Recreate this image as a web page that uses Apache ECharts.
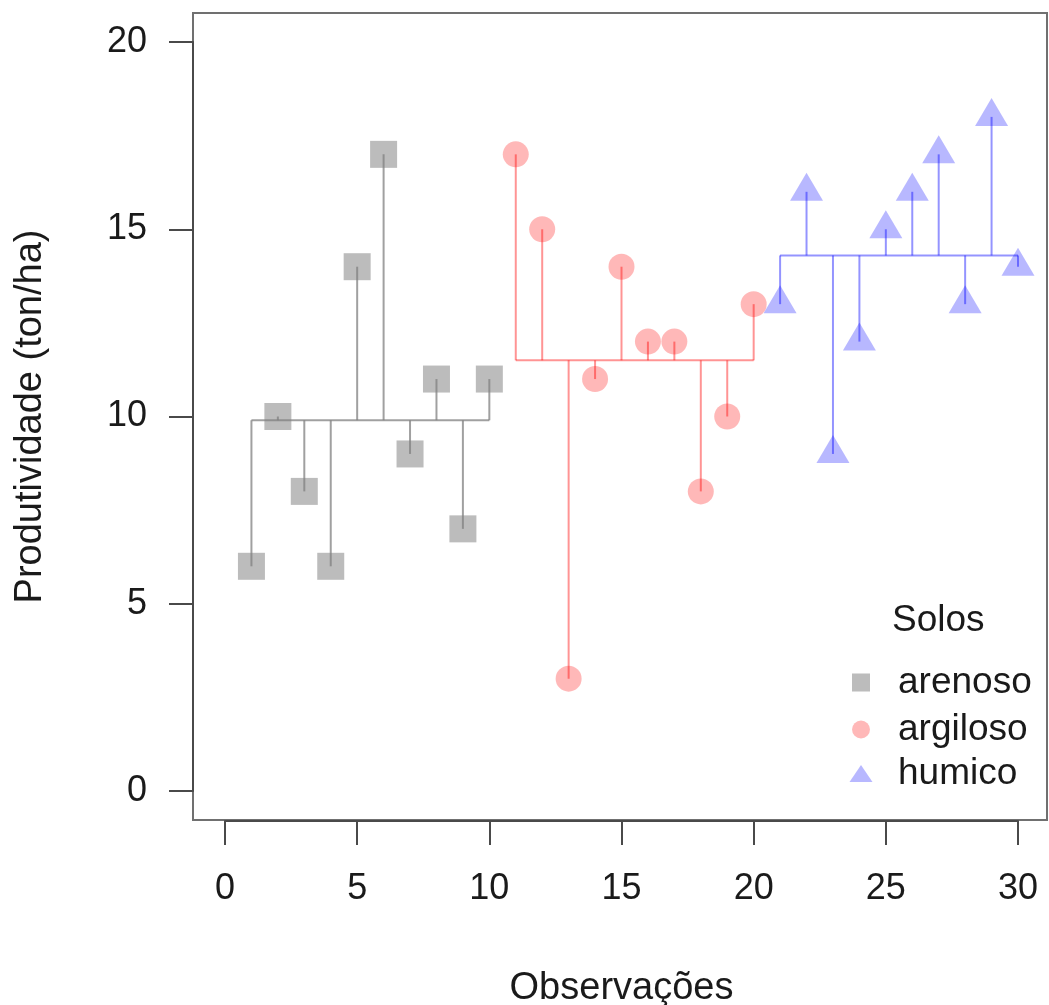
<!DOCTYPE html>
<html>
<head>
<meta charset="utf-8">
<script src="https://cdn.jsdelivr.net/npm/echarts@6/dist/echarts.min.js"></script>
<style>html,body{margin:0;padding:0;background:#fff}#c{width:1049px;height:1005px}</style>
</head>
<body>
<div id="c"></div>
<script>
// ---- data ----
const obsArenoso  = [1, 2, 3, 4, 5, 6, 7, 8, 9, 10];
const obsArgiloso = [11, 12, 13, 14, 15, 16, 17, 18, 19, 20];
const obsHumico   = [21, 22, 23, 24, 25, 26, 27, 28, 29, 30];
const arenoso  = [6, 10, 8, 6, 14, 17, 9, 11, 7, 11];
const argiloso = [17, 15, 3, 11, 14, 12, 12, 8, 10, 13];
const humico   = [13, 16, 9, 12, 15, 16, 17, 13, 18, 14];
const xTicks = [0, 5, 10, 15, 20, 25, 30];
const yTicks = [0, 5, 10, 15, 20];
const groupNames = ['arenoso', 'argiloso', 'humico'];
const legendTitle = 'Solos';
const xTitle = 'Observações';
const yTitle = 'Produtividade (ton/ha)';

// ---- styles ----
const FONT = '"Liberation Sans", Arial, Helvetica, sans-serif';
const TXT = '#1a1a1a';
const AX = '#4a4a4a';
const colors = ['rgba(128,128,128,0.66)', 'rgba(255,0,0,0.35)', 'rgba(0,0,255,0.35)'];
const lineColors = ['rgba(128,128,128,0.75)', 'rgba(255,0,0,0.42)', 'rgba(0,0,255,0.42)'];

const groups = [
  { name: groupNames[0], xs: obsArenoso, ys: arenoso, symbol: 'rect', size: 27, offset: [0, 0] },
  { name: groupNames[1], xs: obsArgiloso, ys: argiloso, symbol: 'circle', size: 26, offset: [0, 0] },
  { name: groupNames[2], xs: obsHumico, ys: humico, symbol: 'triangle', size: [33, 28], offset: [0, -5] }
];

const mean = a => a.reduce((s, v) => s + v, 0) / a.length;

const series = [];
groups.forEach((g, i) => {
  const m = mean(g.ys);
  series.push({
    name: g.name,
    type: 'scatter',
    symbol: g.symbol,
    symbolSize: g.size,
    symbolOffset: g.offset,
    clip: false,
    z: 2,
    itemStyle: { color: colors[i] },
    emphasis: { disabled: true },
    data: g.xs.map((x, k) => [x, g.ys[k]])
  });
  // vertical residual segments from point to group mean
  series.push({
    type: 'custom',
    z: 3,
    clip: false,
    silent: true,
    data: g.xs.map((x, k) => [x, g.ys[k], m]),
    renderItem: (params, api) => {
      const p1 = api.coord([api.value(0), api.value(1)]);
      const p2 = api.coord([api.value(0), api.value(2)]);
      return {
        type: 'line',
        shape: { x1: p1[0], y1: p1[1], x2: p2[0], y2: p2[1] },
        style: { stroke: lineColors[i], lineWidth: 2 }
      };
    }
  });
  // horizontal mean line
  series.push({
    type: 'line',
    z: 3,
    silent: true,
    showSymbol: false,
    symbol: 'none',
    lineStyle: { color: lineColors[i], width: 2 },
    data: [[g.xs[0], m], [g.xs[g.xs.length - 1], m]]
  });
});

const legendTops = [664, 711, 755];
const legendIcons = [[18, 18], [18, 18], [23, 17]];
const legends = groups.map((g, i) => ({
  data: [g.name],
  left: 852 - (legendIcons[i][0] - 18) / 2,
  top: legendTops[i],
  orient: 'vertical',
  padding: 0,
  itemWidth: legendIcons[i][0],
  itemHeight: legendIcons[i][1],
  selectedMode: false,
  textStyle: { fontSize: 37, lineHeight: 37, color: TXT, fontFamily: FONT, padding: [0, 0, 0, 23 - (legendIcons[i][0] - 18) / 2] }
}));

const chart = echarts.init(document.getElementById('c'), null, { renderer: 'canvas' });
chart.setOption({
  animation: false,
  backgroundColor: '#fff',
  title: {
    text: legendTitle,
    left: 892,
    top: 602,
    padding: 0,
    textStyle: { fontSize: 37, fontWeight: 'normal', color: TXT, fontFamily: FONT }
  },
  legend: legends,
  grid: { left: 225, right: 31, top: 42, bottom: 214, show: false, containLabel: false, outerBoundsMode: 'none' },
  xAxis: {
    type: 'value',
    min: xTicks[0],
    max: xTicks[xTicks.length - 1],
    interval: xTicks[1] - xTicks[0],
    offset: 30,
    name: xTitle,
    nameLocation: 'middle',
    nameGap: 149,
    nameTextStyle: { fontSize: 38, color: TXT, fontFamily: FONT },
    axisLine: { show: true, onZero: false, lineStyle: { color: AX, width: 2 } },
    axisTick: { show: true, length: 24, lineStyle: { color: AX, width: 2 } },
    axisLabel: { fontSize: 36, color: TXT, fontFamily: FONT, margin: 50 },
    splitLine: { show: false }
  },
  yAxis: {
    type: 'value',
    min: yTicks[0],
    max: yTicks[yTicks.length - 1],
    interval: yTicks[1] - yTicks[0],
    offset: 32,
    name: yTitle,
    nameLocation: 'middle',
    nameGap: 143,
    nameTextStyle: { fontSize: 38, color: TXT, fontFamily: FONT },
    axisLine: { show: true, onZero: false, lineStyle: { color: AX, width: 2 } },
    axisTick: { show: true, length: 24, lineStyle: { color: AX, width: 2 } },
    axisLabel: { fontSize: 36, color: TXT, fontFamily: FONT, margin: 46 },
    splitLine: { show: false }
  },
  graphic: [{
    type: 'rect',
    silent: true,
    z: -1,
    shape: { x: 193, y: 13, width: 854, height: 807 },
    style: { fill: null, stroke: '#707070', lineWidth: 2 }
  }],
  series: series
});
</script>
</body>
</html>
